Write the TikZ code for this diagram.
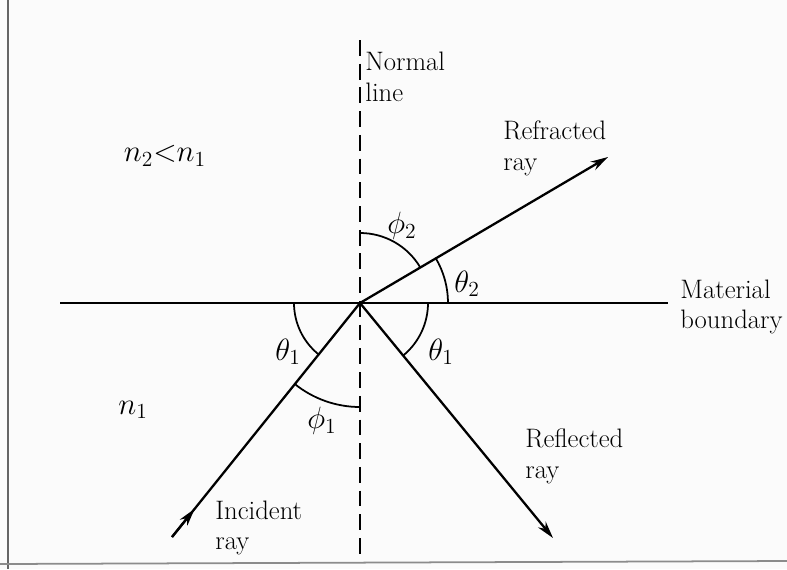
\RequirePackage{fix-cm}
\documentclass[tikz,border=0pt]{standalone}
\usetikzlibrary{arrows.meta,calc}

\begin{document}
\begin{tikzpicture}[
    x=0.02cm, y=-0.02cm, % one unit = one pixel of the scan, y downwards
    >={Stealth[length=10pt,width=5.5pt]},
    font=\fontsize{15.2}{17.5}\selectfont,
    ray/.style={line width=1.3pt},
    arr/.style={ray, ->},
    normline/.style={line width=1.1pt, dash pattern=on 9pt off 4.5pt},
    angarc/.style={line width=1pt},
    lbl/.style={align=left, anchor=west, inner sep=0pt},
    ang/.style={inner sep=0pt, font=\fontsize{17.5}{20}\selectfont}
]

% page and scan edges
\fill[black!1.5] (0,0) rectangle (787,569);
\useasboundingbox (0,0) rectangle (787,569);
\draw[black!60, line width=1pt] (8,0) -- (8,569);
\draw[black!45, line width=1pt] (0,564) -- (787,561);

% ------------------- LINES -------------------
\coordinate (O) at (360,303);
\coordinate (ntop) at (360,40);
\coordinate (nbot) at (360,560);
\coordinate (bl) at (60,303);
\coordinate (br) at (668,303);
\coordinate (inc) at (172,537);
\coordinate (refr) at (608,157);
\coordinate (refl) at (553,538);

\draw[normline] (ntop) -- (nbot);
\draw[ray] (bl) -- (br);

% incident ray, arrow near its lower end
\draw[ray] (inc) -- (O);
\draw[arr] (inc) -- ($(inc)!0.12!(O)$);
\draw[arr] (O) -- (refr);
\draw[arr] (O) -- (refl);

% ------------------- ANGLES -------------------
\draw[angarc] ($(O)+(0:88)$) arc[start angle=0, end angle=-30.6, radius=88];
\draw[angarc] ($(O)+(-90:70)$) arc[start angle=-90, end angle=-30.6, radius=70];
\draw[angarc] ($(O)+(0:68)$) arc[start angle=0, end angle=50.5, radius=68];
\draw[angarc] ($(O)+(180:66)$) arc[start angle=180, end angle=128.8, radius=66];
\draw[angarc] ($(O)+(128.8:104)$) arc[start angle=128.8, end angle=90, radius=104];

% ------------------- LABELS -------------------
\node[lbl] (nl) at (365,77) {Normal\\line};
\node[lbl] (rfr) at (503,148) {Refracted\\ray};
\node[lbl] (rfl) at (525,456) {Reflected\\ray};
\node[lbl] (inl) at (215,528) {Incident\\ray};
\node[lbl] (mb) at (680,307) {Material\\boundary};

\node[ang] (n21) at (165,156) {$n_2 {<} n_1$};
\node[ang] (n1) at (133,410) {$n_1$};
\node[ang] (p2) at (402,226) {$\phi_2$};
\node[ang] (t2) at (467,284) {$\theta_2$};
\node[ang] (t1l) at (288,352) {$\theta_1$};
\node[ang] (t1r) at (441,352) {$\theta_1$};
\node[ang] (p1) at (322,421) {$\phi_1$};

\end{tikzpicture}
\end{document}
